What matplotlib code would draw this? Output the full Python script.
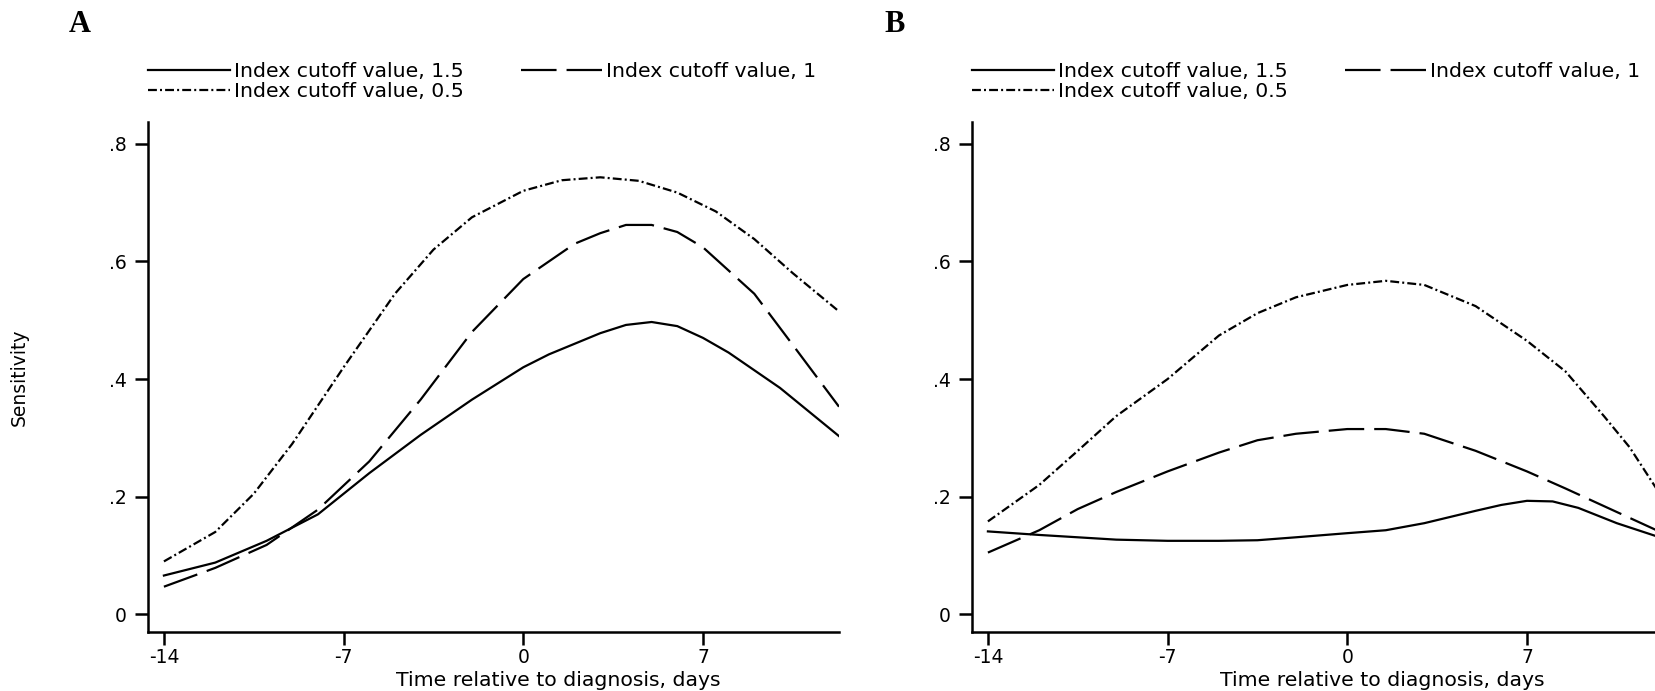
import matplotlib
matplotlib.use("Agg")
import matplotlib.pyplot as plt

# panel A
a_x_15 = [-14, -12, -10, -8, -7, -6, -4, -2, 0, 1, 2, 3, 4, 5, 6, 7, 8, 10, 12.3]
a_y_15 = [0.066, 0.088, 0.125, 0.17, 0.205, 0.24, 0.305, 0.365, 0.42, 0.442, 0.46, 0.478, 0.492, 0.497, 0.49, 0.47, 0.445, 0.385, 0.303]
a_x_1 = [-14, -12, -10, -8, -6, -4, -2, 0, 2, 3, 4, 5, 6, 7, 9, 10.5, 12.3]
a_y_1 = [0.047, 0.079, 0.118, 0.178, 0.26, 0.365, 0.48, 0.57, 0.63, 0.648, 0.662, 0.662, 0.65, 0.624, 0.545, 0.458, 0.353]
a_x_05 = [-14, -12, -10.5, -9, -7, -5, -3.5, -2, 0, 1.5, 3, 4.5, 6, 7.5, 9, 10.5, 12.3]
a_y_05 = [0.09, 0.14, 0.205, 0.29, 0.42, 0.545, 0.62, 0.675, 0.72, 0.738, 0.743, 0.737, 0.717, 0.685, 0.638, 0.58, 0.515]

# panel B
b_x_15 = [-14, -12, -10.5, -9, -7, -5, -3.5, -2, 0, 1.5, 3, 5, 6, 7, 8, 9, 10.5, 12.1]
b_y_15 = [0.141, 0.135, 0.131, 0.127, 0.125, 0.125, 0.126, 0.131, 0.138, 0.143, 0.155, 0.176, 0.186, 0.193, 0.192, 0.181, 0.155, 0.132]
b_x_1 = [-14, -12, -10.5, -9, -7, -5, -3.5, -2, 0, 1.5, 3, 5, 7, 8.5, 10, 12.1]
b_y_1 = [0.105, 0.143, 0.179, 0.208, 0.243, 0.275, 0.296, 0.307, 0.315, 0.315, 0.307, 0.278, 0.243, 0.214, 0.184, 0.142]
b_x_05 = [-14, -12, -10.5, -9, -7, -5, -3.5, -2, 0, 1.5, 3, 5, 7, 8.5, 10, 11, 12.1]
b_y_05 = [0.158, 0.22, 0.278, 0.337, 0.40, 0.474, 0.512, 0.539, 0.56, 0.567, 0.56, 0.524, 0.465, 0.413, 0.337, 0.284, 0.21]

labels = ["Index cutoff value, 1.5", "Index cutoff value, 1", "Index cutoff value, 0.5"]
x_ticks = [-14, -7, 0, 7]
x_tick_labels = ["-14", "-7", "0", "7"]
y_ticks = [0, 0.2, 0.4, 0.6, 0.8]
y_tick_labels = ["0", ".2", ".4", ".6", ".8"]

plt.rcParams["font.family"] = ["DejaVu Sans"]
plt.rcParams["axes.unicode_minus"] = False

W, H = 1655, 691
fig = plt.figure(figsize=(W / 100, H / 100), dpi=100)

LW = 1.6
DASH = (0, (16, 4.5))
DASHDOT = (0, (4, 1.4, 0.9, 1.4))


def draw_panel(left_px, letter, letter_x, series, show_ylabel):
    ax = fig.add_axes([left_px / W, (H - 632) / H, (839 - 148) / W, 510 / H])
    (x15, y15), (x1, y1), (x05, y05) = series
    l15, = ax.plot(x15, y15, color="black", lw=LW, linestyle="-")
    l1, = ax.plot(x1, y1, color="black", lw=LW, linestyle=DASH)
    l05, = ax.plot(x05, y05, color="black", lw=LW, linestyle=DASHDOT)

    ax.set_xlim(-14.62, 12.3)
    ax.set_ylim(-0.03, 0.837)
    ax.set_xticks(x_ticks)
    ax.set_xticklabels(x_tick_labels)
    ax.set_yticks(y_ticks)
    ax.set_yticklabels(y_tick_labels)
    for s in ["top", "right"]:
        ax.spines[s].set_visible(False)
    for s in ["left", "bottom"]:
        ax.spines[s].set_linewidth(1.8)
    ax.tick_params(axis="both", direction="out", length=9.5, width=1.8, labelsize=13.5)
    ax.tick_params(axis="y", pad=6)
    ax.tick_params(axis="x", pad=2)
    ax.patch.set_alpha(0)

    ax.set_xlabel("Time relative to diagnosis, days", fontsize=14.7, va="top")
    ax.xaxis.set_label_coords(0.594, -0.076)
    if show_ylabel:
        ax.set_ylabel("Sensitivity", fontsize=13.5)
        ax.yaxis.set_label_coords(-0.172, 0.5)

    ax.legend(
        [l15, l05, l1],
        [labels[0], labels[2], labels[1]],
        ncol=2,
        frameon=False,
        fontsize=14.7,
        loc="upper left",
        bbox_to_anchor=(left_px / W, 1 - 62 / H),
        bbox_transform=fig.transFigure,
        borderaxespad=0,
        borderpad=0,
        handlelength=4.0,
        handletextpad=0.2,
        columnspacing=2.8,
        labelspacing=0.05,
    )

    fig.text(letter_x / W, 1 - 24 / H, letter, fontsize=22, fontweight="bold",
             family="Liberation Serif", ha="center", va="center")
    return ax


draw_panel(148, "A", 80, [(a_x_15, a_y_15), (a_x_1, a_y_1), (a_x_05, a_y_05)], True)
draw_panel(972, "B", 895, [(b_x_15, b_y_15), (b_x_1, b_y_1), (b_x_05, b_y_05)], False)

fig.savefig("out.png", dpi=100)
